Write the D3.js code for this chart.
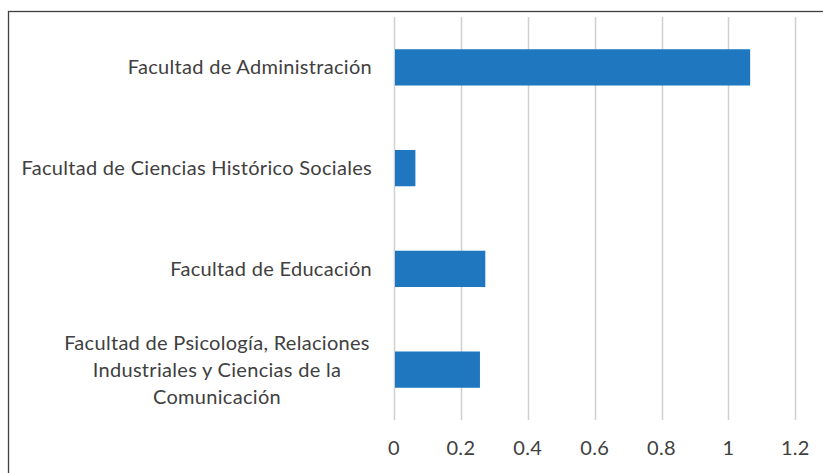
<!DOCTYPE html>
<html>
<head>
<meta charset="utf-8">
<script src="https://cdn.jsdelivr.net/npm/d3@7"></script>
<style>
  body { margin: 0; background: #fff; }
  text { font-family: Lato, "Open Sans", sans-serif; fill: #404040; letter-spacing: 0.3px; }
</style>
</head>
<body>
<svg id="chart" width="823" height="473"></svg>
<script>
"use strict";
var categories = [
  ["Facultad de Administración"],
  ["Facultad de Ciencias Histórico Sociales"],
  ["Facultad de Educación"],
  ["Facultad de Psicología, Relaciones", "Industriales y Ciencias de la", "Comunicación"]
];
var values = [1.065, 0.064, 0.273, 0.257];
var ticks = [0, 0.2, 0.4, 0.6, 0.8, 1, 1.2];

var svg = d3.select("#chart");
var margin = {left: 394, right: 28, top: 17, bottom: 53};
var W = 823, H = 473;
var fontSize = 20;

// frame
svg.append("rect")
  .attr("x", 8.5).attr("y", 11.5)
  .attr("width", W).attr("height", H)
  .attr("fill", "none").attr("stroke", "#404040").attr("stroke-width", 1.3);

var x = d3.scaleLinear().domain([0, 1.2]).range([margin.left, 795.3]);
var y = d3.scaleBand().domain(d3.range(categories.length))
  .range([margin.top, H - margin.bottom]).paddingInner(0.64).paddingOuter(0.32);

// gridlines
svg.append("g").selectAll("line").data(ticks).join("line")
  .attr("x1", d => Math.round(x(d)) + 0.5).attr("x2", d => Math.round(x(d)) + 0.5)
  .attr("y1", margin.top).attr("y2", H - margin.bottom)
  .attr("stroke", "#d0d0d0").attr("stroke-width", 1.5);

// bars
svg.append("g").selectAll("rect").data(values).join("rect")
  .attr("x", x(0) + 1)
  .attr("y", (d, i) => y(i))
  .attr("width", d => x(d) - x(0) - 1)
  .attr("height", y.bandwidth())
  .attr("fill", "#1f77c0");

// tick labels
svg.append("g").selectAll("text").data(ticks).join("text")
  .attr("x", d => x(d)).attr("y", 448)
  .attr("dy", "0.35em")
  .attr("text-anchor", "middle")
  .style("font-size", fontSize + "px")
  .text(d => d);

// category labels
var lineH = 27;
var lab = svg.append("g").selectAll("text").data(categories).join("text")
  .style("font-size", fontSize + "px")
  .attr("text-anchor", d => d.length > 1 ? "middle" : "end")
  .attr("y", (d, i) => y(i) + y.bandwidth() / 2 - (d.length - 1) * lineH / 2);
lab.selectAll("tspan").data(d => d).join("tspan")
  .attr("x", function () { return this.parentNode.__data__.length > 1 ? 217 : 372; })
  .attr("dy", (d, i) => i === 0 ? "0.35em" : lineH)
  .text(d => d);
</script>
</body>
</html>
